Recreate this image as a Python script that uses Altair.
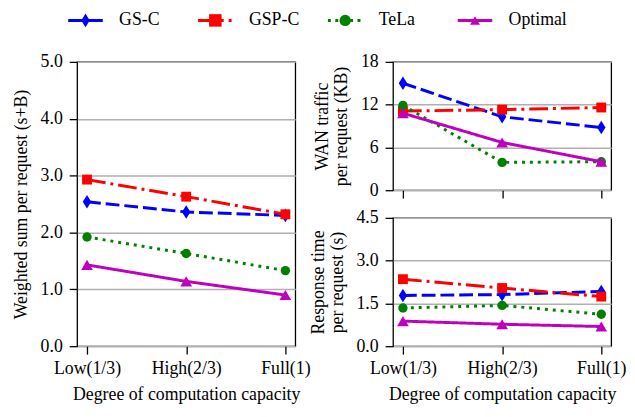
import altair as alt
import pandas as pd

capacities = ["Low(1/3)", "High(2/3)", "Full(1)"]
series = ["GS-C", "GSP-C", "TeLa", "Optimal"]
colors = ["#0000ff", "#ff0000", "#008000", "#bf00bf"]

weighted = {
    "GS-C": [2.54, 2.36, 2.30],
    "GSP-C": [2.93, 2.63, 2.32],
    "TeLa": [1.92, 1.63, 1.33],
    "Optimal": [1.43, 1.14, 0.90],
}
wan = {
    "GS-C": [15.0, 10.3, 8.8],
    "GSP-C": [11.1, 11.3, 11.6],
    "TeLa": [11.9, 3.9, 4.0],
    "Optimal": [10.8, 6.7, 4.0],
}
resp = {
    "GS-C": [1.78, 1.81, 1.92],
    "GSP-C": [2.35, 2.04, 1.74],
    "TeLa": [1.34, 1.43, 1.12],
    "Optimal": [0.88, 0.77, 0.69],
}

FONT = "Liberation Serif"
FS = 18
DIAMOND = "M0,-1L0.62,0L0,1L-0.62,0Z"
shapes = {"GS-C": DIAMOND, "GSP-C": "square", "TeLa": "circle", "Optimal": "triangle-up"}
sizes = {"GS-C": 190, "GSP-C": 100, "TeLa": 90, "Optimal": 140}
dashes = {"GS-C": [14, 5], "GSP-C": [19, 5, 3, 5], "TeLa": [3, 5], "Optimal": [1, 0]}
legend_dashes = {"GS-C": [1000, 1], "GSP-C": [26, 5, 3, 20], "TeLa": [3, 4.5], "Optimal": [1000, 1]}


def to_df(d):
    rows = []
    for s in series:
        for c, v in zip(capacities, d[s]):
            rows.append({"series": s, "capacity": c, "value": v})
    return pd.DataFrame(rows)


def panel(d, ymax, ticks, fmt, ytitle, show_x_labels, w, h):
    df = to_df(d)
    layers = []
    for i, s in enumerate(series):
        base = alt.Chart(df).transform_filter(alt.datum.series == s).encode(
            x=alt.X(
                "capacity:N",
                sort=capacities,
                scale=alt.Scale(type="point", padding=0.1),
                axis=alt.Axis(
                    labelAngle=0,
                    grid=False,
                    labels=show_x_labels,
                    labelPadding=6,
                    titlePadding=8,
                    title="Degree of computation capacity" if show_x_labels else "",
                ),
            ),
            y=alt.Y(
                "value:Q",
                scale=alt.Scale(domain=[0, ymax], nice=False, zero=True),
                axis=alt.Axis(values=ticks, format=fmt, title=ytitle, grid=True),
            ),
        )
        line = base.mark_line(
            color=colors[i], strokeWidth=3, strokeDash=dashes[s], strokeCap="butt"
        )
        pts = base.mark_point(
            shape=shapes[s], size=sizes[s], filled=True, color=colors[i], opacity=1
        )
        layers += [line, pts]
    return alt.layer(*layers).properties(width=w, height=h)


left = panel(weighted, 5, [0, 1, 2, 3, 4, 5], ".1f", "Weighted sum per request (s+B)", True, 221, 288)
top = panel(wan, 18, [0, 6, 12, 18], "d", ["WAN traffic", "per request (KB)"], False, 221, 130)
bottom = panel(resp, 4.5, [0, 1.5, 3.0, 4.5], ".1f", ["Response time", "per request (s)"], True, 221, 130)

# legend: entries placed by their order through a linear scale over the legend width
LEG_W = 541
leg_df = pd.DataFrame({"series": series, "order": list(range(len(series)))})
xscale = alt.Scale(domain=[-0.0646, 4.049], nice=False, zero=False)
lx = alt.X("order:Q", scale=xscale, axis=None)
LY = 10
leg_rule = alt.Chart(leg_df).mark_rule(strokeWidth=3, xOffset=-17.5, x2Offset=17.5).encode(
    x=lx,
    x2="order:Q",
    y=alt.value(LY),
    color=alt.Color("series:N", scale=alt.Scale(domain=series, range=colors), legend=None),
    strokeDash=alt.StrokeDash(
        "series:N",
        scale=alt.Scale(domain=series, range=[legend_dashes[s] for s in series]),
        legend=None,
    ),
)
leg_pts = alt.Chart(leg_df).mark_point(filled=True, opacity=1).encode(
    x=lx,
    y=alt.value(LY),
    color=alt.Color("series:N", scale=alt.Scale(domain=series, range=colors), legend=None),
    shape=alt.Shape("series:N", scale=alt.Scale(domain=series, range=[shapes[s] for s in series]), legend=None),
    size=alt.Size("series:N", scale=alt.Scale(domain=series, range=[sizes[s] for s in series]), legend=None),
)
leg_txt = alt.Chart(leg_df).mark_text(
    align="left", baseline="middle", dx=34, font=FONT, fontSize=FS, color="black"
).encode(x=lx, y=alt.value(LY), text="series:N")
legend = alt.layer(leg_rule, leg_pts, leg_txt).properties(
    width=LEG_W, height=20, view=alt.ViewBackground(strokeWidth=0)
)

right = alt.vconcat(top, bottom, spacing=28, bounds="flush")
body = alt.hconcat(left, right, spacing=99, bounds="flush")
chart = (
    alt.vconcat(legend, body, spacing=32, bounds="flush")
    .properties(padding={"left": 3, "top": 0, "right": 0, "bottom": 0})
    .configure_view(stroke="black", strokeWidth=1.3)
    .configure_axis(
        labelFont=FONT,
        labelFontSize=FS,
        labelColor="black",
        titleFont=FONT,
        titleFontSize=FS,
        titleFontWeight="normal",
        titleColor="black",
        titleLineHeight=19,
        domain=False,
        tickColor="black",
        tickSize=8,
        tickWidth=1.3,
        labelPadding=7,
        titlePadding=10,
        gridColor="#b0b0b0",
        gridWidth=1.5,
    )
)

chart.save("out.html", embed_options={"renderer": "svg", "actions": False})
